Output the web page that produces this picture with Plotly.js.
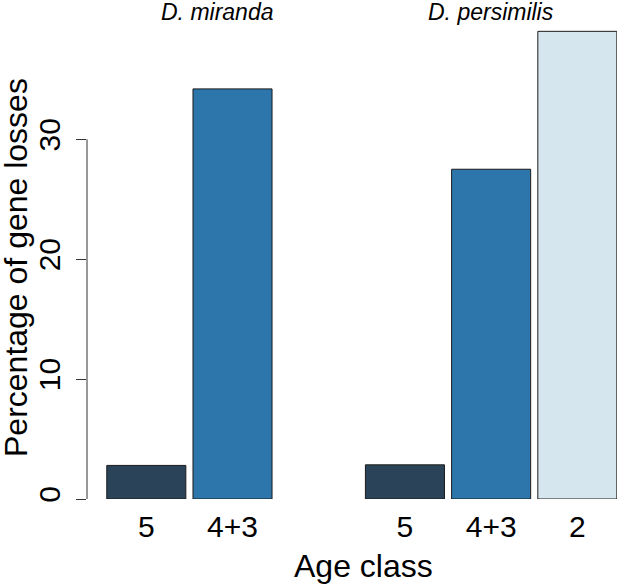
<!DOCTYPE html>
<html>
<head>
<meta charset="utf-8">
<script src="https://cdn.plot.ly/plotly-3.0.1.min.js"></script>
<style>html,body{margin:0;padding:0;background:#fff;}#chart{width:617px;height:585px;}</style>
</head>
<body>
<div id="chart"></div>
<script>
// Data
const species = ["D. miranda", "D. persimilis"];
const ageClasses = ["5", "4+3", "2"];
const mirandaValues = [2.8, 34.2, null];
const persimilisValues = [2.85, 27.5, 39.0];
const ageColors = ["#2a4358", "#2c76ab", "#d5e6ee"];
const yTicks = [0, 10, 20, 30];

const groups = [mirandaValues, persimilisValues];
const xs = [], ys = [], cols = [], tickvals = [], ticktext = [];
groups.forEach((vals, g) => {
  vals.forEach((v, a) => {
    const slot = g * ageClasses.length + a;
    if (v !== null) {
      xs.push(slot); ys.push(v); cols.push(ageColors[a]);
      tickvals.push(slot); ticktext.push(ageClasses[a]);
    }
  });
});

const font = "Liberation Sans, Arial, Helvetica, sans-serif";

const trace = {
  type: "bar", x: xs, y: ys,
  marker: {color: cols, line: {color: "#1b1b1b", width: 1}},
  hoverinfo: "x+y"
};

const layout = {
  width: 617, height: 585,
  margin: {l: 87, r: 0, t: 7, b: 86, pad: 0},
  paper_bgcolor: "#fff", plot_bgcolor: "#fff",
  showlegend: false,
  bargap: 0.083,
  font: {family: font, color: "#000"},
  xaxis: {
    range: [-0.688, 5.46],
    tickvals: tickvals, ticktext: ticktext,
    showline: false, showgrid: false, zeroline: false, ticks: "",
    ticklabelstandoff: 7,
    tickfont: {size: 30, family: font}
  },
  yaxis: {
    range: [0, 41.03],
    tickvals: yTicks,
    showline: false, showgrid: false, zeroline: false,
    ticks: "outside", ticklen: 10, tickwidth: 1, tickcolor: "#333",
    tickangle: -90,
    ticklabelstandoff: 4,
    tickfont: {size: 30, family: font}
  },
  shapes: [{
    type: "line", xref: "paper", yref: "y",
    x0: 0, x1: 0, y0: yTicks[0], y1: yTicks[yTicks.length - 1],
    line: {color: "#333", width: 1}
  }],
  annotations: [
    {text: "Percentage of gene losses", textangle: -90, xref: "paper", yref: "paper",
     x: -0.134, y: 0.4715, xanchor: "center", yanchor: "middle", showarrow: false,
     font: {size: 32, family: font}},
    {text: "Age class", xref: "paper", yref: "paper",
     x: 0.521, y: -0.136, xanchor: "center", yanchor: "middle", showarrow: false,
     font: {size: 32, family: font}},
    {text: "<i>" + species[0] + "</i>", xref: "x", yref: "paper", x: 0.82, y: 1.0,
     xanchor: "center", yanchor: "middle", yshift: -5, showarrow: false, font: {size: 23, family: font}},
    {text: "<i>" + species[1] + "</i>", xref: "x", yref: "paper", x: 4, y: 1.0,
     xanchor: "center", yanchor: "middle", yshift: -5, showarrow: false, font: {size: 23, family: font}}
  ]
};

Plotly.newPlot("chart", [trace], layout, {displayModeBar: false, staticPlot: true});
</script>
</body>
</html>
